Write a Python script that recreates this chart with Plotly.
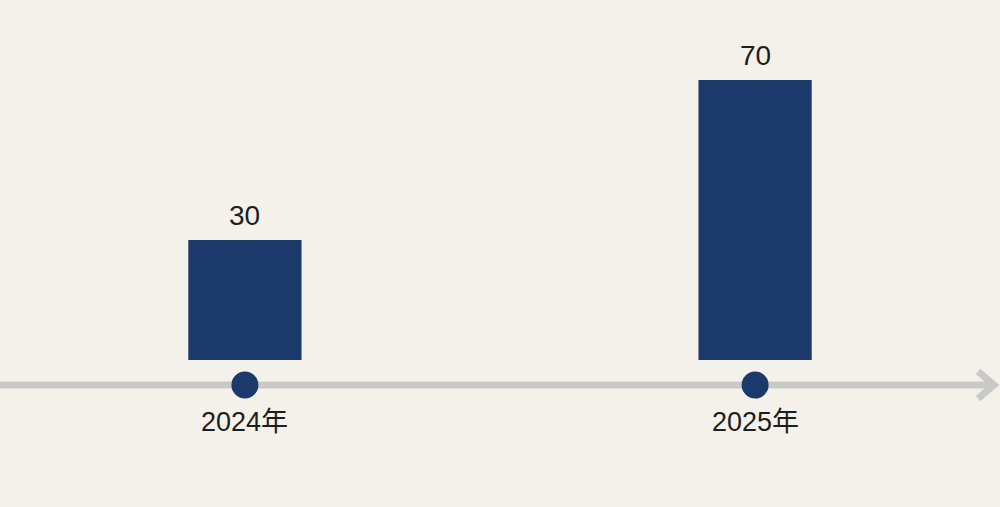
import plotly.graph_objects as go

categories = ["2024年", "2025年"]
values = [30, 70]

BG = "#f4f1eb"
NAVY = "#1c396b"
GRAY = "#c9c9c7"
TEXT = "#1e1e1e"
FONT = "Liberation Sans, Arial, Noto Sans CJK SC, sans-serif"

x_pos = list(range(len(categories)))
x_min, x_max = -0.48, 1.48
y_min, y_max = -15, 90
y_line = -6.25

# timeline geometry (axis units)
line_end = x_min + (x_max - x_min) * 0.994
head_back = x_min + (x_max - x_min) * 0.978
head_half = 3.4

fig = go.Figure()
fig.add_trace(go.Scatter(
    x=[x_min - 0.05, line_end], y=[y_line, y_line], mode="lines",
    line=dict(color=GRAY, width=7), hoverinfo="skip",
))
fig.add_trace(go.Scatter(
    x=[head_back, line_end, head_back], y=[y_line + head_half, y_line, y_line - head_half],
    mode="lines", line=dict(color=GRAY, width=7), hoverinfo="skip",
))
fig.add_trace(go.Bar(
    x=x_pos, y=values, width=0.222, marker=dict(color=NAVY, line=dict(width=0)),
    hoverinfo="skip",
))
fig.add_trace(go.Scatter(
    x=x_pos, y=[y_line] * len(x_pos), mode="markers",
    marker=dict(size=27, color=NAVY), cliponaxis=False, hoverinfo="skip",
))

for xi, v in zip(x_pos, values):
    fig.add_annotation(x=xi, y=v, text=str(v), showarrow=False, yanchor="bottom",
                       yshift=7, font=dict(size=28, color=TEXT, family=FONT))

for xi, cat in zip(x_pos, categories):
    fig.add_annotation(x=xi, y=y_line, text=cat, showarrow=False, yanchor="middle",
                       yshift=-37, font=dict(size=27, color=TEXT, family=FONT))

fig.update_layout(
    width=1000, height=507,
    margin=dict(l=0, r=0, t=0, b=87),
    paper_bgcolor=BG, plot_bgcolor=BG,
    showlegend=False,
    xaxis=dict(range=[x_min, x_max], visible=False, showgrid=False, zeroline=False,
               fixedrange=True),
    yaxis=dict(range=[y_min, y_max], visible=False, showgrid=False, zeroline=False,
               fixedrange=True),
)

fig.write_html("out.html", config={"displayModeBar": False},
               post_script="document.body.style.margin='0';document.body.style.background='%s';" % BG)
